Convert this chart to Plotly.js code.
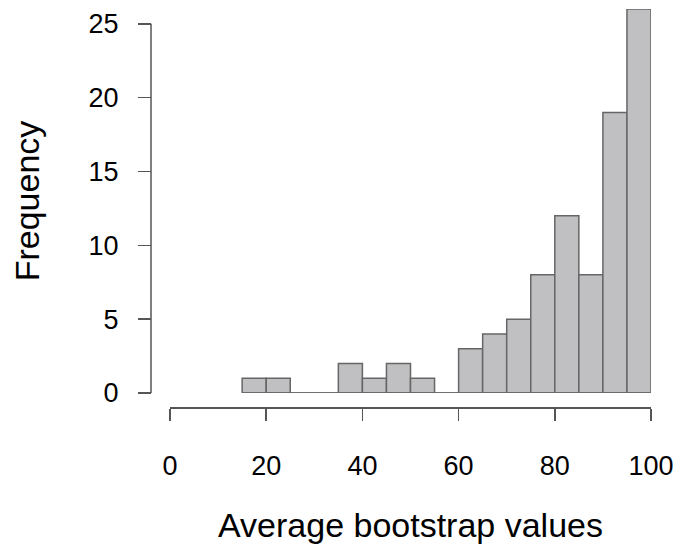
<!DOCTYPE html>
<html>
<head>
<meta charset="utf-8">
<script src="https://cdn.plot.ly/plotly-3.0.1.min.js"></script>
<style>html,body{margin:0;padding:0;background:#fff;}#chart{width:680px;height:553px;}</style>
</head>
<body>
<div id="chart"></div>
<script>
// Histogram bins (lower edges, width 5) and counts
var binStarts = [15, 20, 25, 30, 35, 40, 45, 50, 55, 60, 65, 70, 75, 80, 85, 90, 95];
var counts    = [1, 1, 0, 0, 2, 1, 2, 1, 0, 3, 4, 5, 8, 12, 8, 19, 26];
var binWidth = 5;
var xTicks = [0, 20, 40, 60, 80, 100];
var yTicks = [0, 5, 10, 15, 20, 25];

var centers = binStarts.map(function (s) { return s + binWidth / 2; });

var fontFam = 'Liberation Sans, Arial, sans-serif';

var trace = {
  type: 'bar',
  x: centers,
  y: counts,
  width: binWidth,
  marker: { color: '#c0c0c2', line: { color: '#666666', width: 1.5 } },
  hoverinfo: 'x+y'
};

var layout = {
  width: 680, height: 553,
  margin: { l: 151, r: 29, t: 9, b: 146 },
  paper_bgcolor: '#fff', plot_bgcolor: '#fff',
  showlegend: false,
  font: { family: fontFam, color: '#000' },
  xaxis: {
    domain: [0.038, 1],
    range: [0, 100],
    anchor: 'free', position: 0,
    tickvals: xTicks, ticktext: xTicks.map(String),
    ticks: 'outside', ticklen: 12, tickwidth: 1.5, tickcolor: '#555',
    ticklabelstandoff: 22,
    showline: true, linecolor: '#555', linewidth: 1.5,
    showgrid: false, zeroline: false,
    tickfont: { size: 27, family: fontFam, color: '#000' },
    title: { text: 'Average bootstrap values', font: { size: 34, family: fontFam, color: '#000' }, standoff: 33 }
  },
  yaxis: {
    domain: [0.0352, 1],
    range: [0, 26],
    anchor: 'free', position: 0,
    tickvals: yTicks, ticktext: yTicks.map(String),
    ticks: 'outside', ticklen: 13, tickwidth: 1.5, tickcolor: '#555',
    ticklabelstandoff: 14,
    showline: false,
    showgrid: false, zeroline: false,
    tickfont: { size: 27, family: fontFam, color: '#000' },
    title: { text: 'Frequency', font: { size: 34, family: fontFam, color: '#000' }, standoff: 37 }
  },
  shapes: [
    { type: 'line', xref: 'paper', yref: 'y', x0: 0, x1: 0, y0: yTicks[0], y1: yTicks[yTicks.length - 1], line: { color: '#555', width: 1.5 } },
    { type: 'line', xref: 'x', yref: 'y', x0: binStarts[0], x1: binStarts[binStarts.length - 1] + binWidth, y0: 0, y1: 0, line: { color: '#666666', width: 1.5 }, layer: 'above' }
  ]
};

Plotly.newPlot('chart', [trace], layout, { displayModeBar: false, staticPlot: true });
</script>
</body>
</html>
